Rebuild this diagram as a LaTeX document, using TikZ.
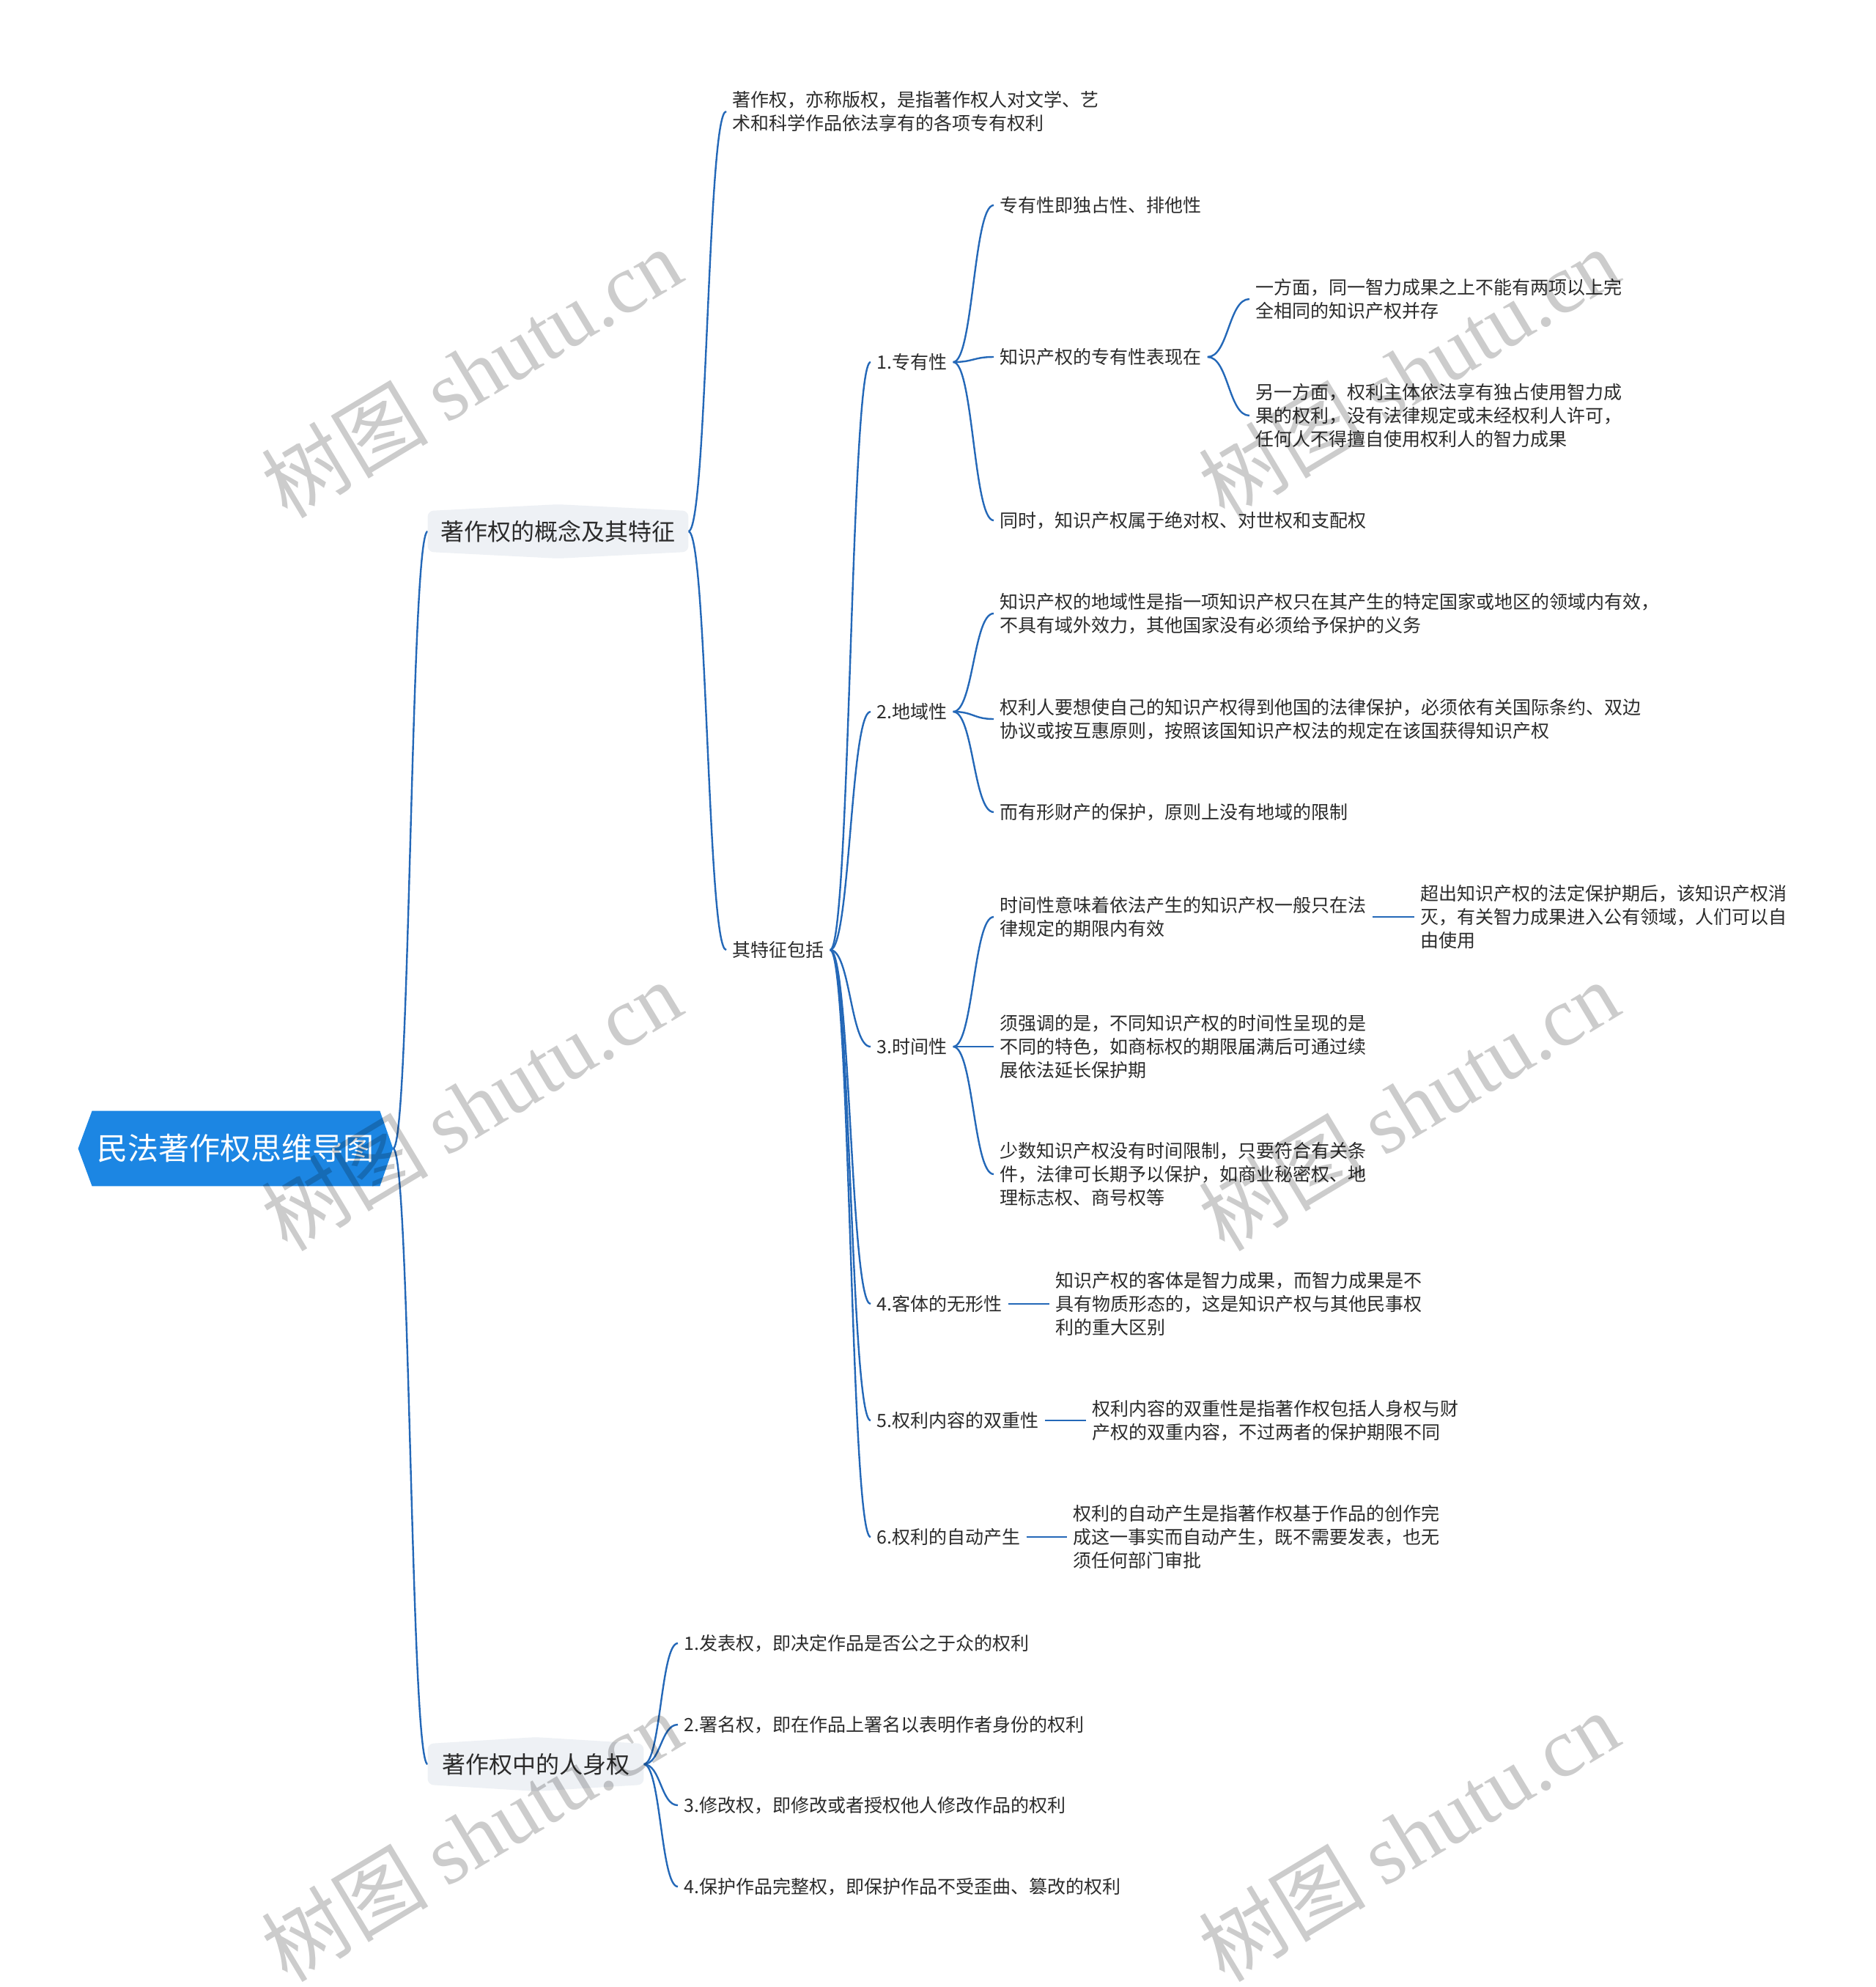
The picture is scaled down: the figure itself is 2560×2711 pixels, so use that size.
\documentclass[tikz,border=0pt]{standalone}
\usepackage{fontspec}
\setmainfont{Noto Sans CJK SC}
\newfontfamily\wmlatin{Liberation Serif}
\usetikzlibrary{calc}
\definecolor{linec}{HTML}{2468B8}
\definecolor{rootc}{HTML}{1C86E3}
\definecolor{lonec}{HTML}{EEF1F5}
\definecolor{txtc}{HTML}{2B2B2B}
\pgfdeclarelayer{bg}
\pgfsetlayers{bg,main}
\tikzset{
  conn/.style={draw=linec, line width=1.2pt},
  leaf/.style={anchor=west, inner xsep=4pt, inner ysep=0pt, align=left, text=txtc, font=\fontsize{12.5}{16}\selectfont},
  rootnode/.style={text=white, font=\fontsize{21}{25}\selectfont, inner sep=0pt, minimum width=214.5pt, minimum height=51pt},
  lonenode/.style={text=txtc, font=\fontsize{16}{20}\selectfont, inner sep=0pt, minimum height=27.5pt},
  wm/.style={text=black, opacity=0.2, rotate=31, font=\fontsize{57}{64}\selectfont, inner sep=0pt}
}
\newcommand\mmconn[2]{\path[conn] let \p1=(#1), \p2=(#2) in (\p1) .. controls ({0.5*\x1+0.5*\x2},\y1) and ({0.5*\x1+0.5*\x2},\y2) .. (\p2);}
\begin{document}
\begin{tikzpicture}[x=0.5pt,y=-0.5pt]
\useasboundingbox (0,0) rectangle (2560,2711);
% nodes
\node[rootnode] (root) at (321.5,1567) {民法著作权思维导图};
\node[lonenode, minimum width=177.5pt] (la) at (761.5,725) {著作权的概念及其特征};
\node[lonenode, minimum width=147pt] (lb) at (731,2407) {著作权中的人身权};

\node[leaf] (def) at (991,152) {著作权，亦称版权，是指著作权人对文学、艺\\术和科学作品依法享有的各项专有权利};
\node[leaf] (tz) at (991,1296) {其特征包括};

\node[leaf] (t1) at (1188,494) {1.专有性};
\node[leaf] (t2) at (1188,971) {2.地域性};
\node[leaf] (t3) at (1188,1428) {3.时间性};
\node[leaf] (t4) at (1188,1779) {4.客体的无形性};
\node[leaf] (t5) at (1188,1938) {5.权利内容的双重性};
\node[leaf] (t6) at (1188,2097) {6.权利的自动产生};

\node[leaf] (a1) at (1356,280) {专有性即独占性、排他性};
\node[leaf] (a2) at (1356,487) {知识产权的专有性表现在};
\node[leaf] (a3) at (1356,710) {同时，知识产权属于绝对权、对世权和支配权};
\node[leaf] (a21) at (1705,408) {一方面，同一智力成果之上不能有两项以上完\\全相同的知识产权并存};
\node[leaf] (a22) at (1705,567) {另一方面，权利主体依法享有独占使用智力成\\果的权利，没有法律规定或未经权利人许可，\\任何人不得擅自使用权利人的智力成果};

\node[leaf] (b1) at (1356,837) {知识产权的地域性是指一项知识产权只在其产生的特定国家或地区的领域内有效，\\不具有域外效力，其他国家没有必须给予保护的义务};
\node[leaf] (b2) at (1356,981) {权利人要想使自己的知识产权得到他国的法律保护，必须依有关国际条约、双边\\协议或按互惠原则，按照该国知识产权法的规定在该国获得知识产权};
\node[leaf] (b3) at (1356,1108) {而有形财产的保护，原则上没有地域的限制};

\node[leaf] (c1) at (1356,1251) {时间性意味着依法产生的知识产权一般只在法\\律规定的期限内有效};
\node[leaf] (c11) at (1930,1251) {超出知识产权的法定保护期后，该知识产权消\\灭，有关智力成果进入公有领域，人们可以自\\由使用};
\node[leaf] (c2) at (1356,1428) {须强调的是，不同知识产权的时间性呈现的是\\不同的特色，如商标权的期限届满后可通过续\\展依法延长保护期};
\node[leaf] (c3) at (1356,1602) {少数知识产权没有时间限制，只要符合有关条\\件，法律可长期予以保护，如商业秘密权、地\\理标志权、商号权等};

\node[leaf] (d1) at (1432,1779) {知识产权的客体是智力成果，而智力成果是不\\具有物质形态的，这是知识产权与其他民事权\\利的重大区别};
\node[leaf] (e1) at (1482,1938) {权利内容的双重性是指著作权包括人身权与财\\产权的双重内容，不过两者的保护期限不同};
\node[leaf] (f1) at (1456,2097) {权利的自动产生是指著作权基于作品的创作完\\成这一事实而自动产生，既不需要发表，也无\\须任何部门审批};

\node[leaf] (p1) at (925,2242) {1.发表权，即决定作品是否公之于众的权利};
\node[leaf] (p2) at (925,2353) {2.署名权，即在作品上署名以表明作者身份的权利};
\node[leaf] (p3) at (925,2463) {3.修改权，即修改或者授权他人修改作品的权利};
\node[leaf] (p4) at (925,2574) {4.保护作品完整权，即保护作品不受歪曲、篡改的权利};

\begin{pgfonlayer}{bg}
\fill[white] (0,0) rectangle (2560,2711);
% connectors
\mmconn{root.east}{la.west}
\mmconn{root.east}{lb.west}
\mmconn{la.east}{def.west}
\mmconn{la.east}{tz.west}
\foreach \t in {t1,t2,t3,t4,t5,t6}{\mmconn{tz.east}{\t.west}}
\foreach \t in {a1,a2,a3}{\mmconn{t1.east}{\t.west}}
\foreach \t in {a21,a22}{\mmconn{a2.east}{\t.west}}
\foreach \t in {b1,b2,b3}{\mmconn{t2.east}{\t.west}}
\foreach \t in {c1,c2,c3}{\mmconn{t3.east}{\t.west}}
\mmconn{c1.east}{c11.west}
\mmconn{t4.east}{d1.west}
\mmconn{t5.east}{e1.west}
\mmconn{t6.east}{f1.west}
\foreach \t in {p1,p2,p3,p4}{\mmconn{lb.east}{\t.west}}
% node backgrounds
\fill[rootc] (root.west) -- ($(root.north west)+(19,0)$) -- ($(root.north east)+(-18,0)$) -- (root.east) -- ($(root.south east)+(-18,0)$) -- ($(root.south west)+(19,0)$) -- cycle;
\fill[lonec, rounded corners=4pt] (la.south west) -- (la.north west) -- ($(la.north)+(0,-9)$) -- (la.north east) -- (la.south east) -- ($(la.south)+(0,9)$) -- cycle;
\fill[lonec, rounded corners=4pt] (lb.south west) -- (lb.north west) -- ($(lb.north)+(0,-9)$) -- (lb.north east) -- (lb.south east) -- ($(lb.south)+(0,9)$) -- cycle;
\end{pgfonlayer}

% watermarks
\foreach \wx/\wy [count=\i] in {643/508,1922/508,643/1508,1922/1508,643/2505,1922/2505}{
  \node[wm] (wm\i) at (\wx,\wy) {树图 {\wmlatin shutu.cn}};
}
\end{tikzpicture}
\end{document}
